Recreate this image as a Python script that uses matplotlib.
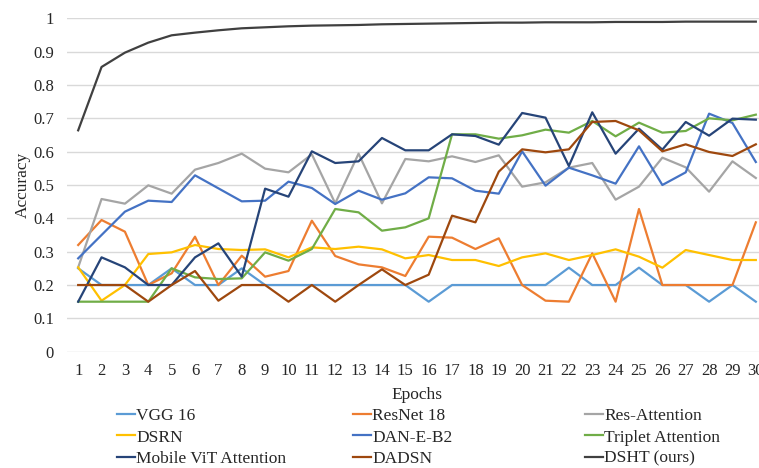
"""Accuracy per epoch for the compared models."""

import matplotlib

matplotlib.use("Agg")
import matplotlib.pyplot as plt
from matplotlib.lines import Line2D

plt.rcParams["font.family"] = ["Liberation Serif", "DejaVu Serif"]

epochs = list(range(1, 31))

vgg16 = [0.25, 0.2, 0.2, 0.2, 0.25, 0.2, 0.2, 0.25, 0.2, 0.2,
         0.2, 0.2, 0.2, 0.2, 0.2, 0.15, 0.2, 0.2, 0.2, 0.2,
         0.2, 0.252, 0.2, 0.2, 0.252, 0.2, 0.2, 0.15, 0.2, 0.15]
resnet18 = [0.32, 0.395, 0.36, 0.2, 0.235, 0.345, 0.2, 0.288, 0.225, 0.242,
            0.393, 0.287, 0.262, 0.253, 0.227, 0.345, 0.342, 0.308, 0.34, 0.2,
            0.153, 0.15, 0.295, 0.15, 0.428, 0.2, 0.2, 0.2, 0.2, 0.388]
res_attention = [0.253, 0.458, 0.444, 0.499, 0.474, 0.546, 0.566, 0.594, 0.549, 0.538,
                 0.592, 0.445, 0.594, 0.445, 0.578, 0.571, 0.586, 0.569, 0.589, 0.495,
                 0.508, 0.552, 0.566, 0.456, 0.495, 0.582, 0.553, 0.48, 0.571, 0.521]
dsrn = [0.253, 0.153, 0.2, 0.293, 0.298, 0.32, 0.308, 0.305, 0.307, 0.283,
        0.313, 0.308, 0.315, 0.307, 0.28, 0.29, 0.275, 0.275, 0.257, 0.283,
        0.295, 0.275, 0.29, 0.307, 0.285, 0.252, 0.305, 0.29, 0.275, 0.275]
dan_e_b2 = [0.28, 0.35, 0.42, 0.453, 0.449, 0.529, 0.49, 0.451, 0.453, 0.51,
            0.491, 0.443, 0.483, 0.456, 0.475, 0.523, 0.52, 0.483, 0.474, 0.601,
            0.498, 0.552, 0.529, 0.504, 0.616, 0.5, 0.538, 0.714, 0.686, 0.569]
triplet = [0.15, 0.15, 0.15, 0.15, 0.25, 0.223, 0.218, 0.22, 0.298, 0.273,
           0.308, 0.428, 0.418, 0.363, 0.373, 0.4, 0.652, 0.652, 0.639, 0.649,
           0.666, 0.657, 0.692, 0.646, 0.687, 0.657, 0.662, 0.7, 0.694, 0.711]
mobile_vit = [0.15, 0.283, 0.253, 0.2, 0.2, 0.283, 0.325, 0.225, 0.489, 0.465,
              0.601, 0.566, 0.571, 0.641, 0.604, 0.604, 0.652, 0.647, 0.621, 0.716,
              0.702, 0.557, 0.718, 0.594, 0.669, 0.606, 0.689, 0.648, 0.699, 0.696]
dadsn = [0.2, 0.2, 0.2, 0.15, 0.2, 0.242, 0.153, 0.2, 0.2, 0.15,
         0.2, 0.15, 0.2, 0.247, 0.2, 0.231, 0.408, 0.388, 0.54, 0.607,
         0.598, 0.607, 0.689, 0.692, 0.664, 0.601, 0.622, 0.599, 0.587, 0.622]
dsht = [0.664, 0.854, 0.897, 0.927, 0.949, 0.957, 0.964, 0.970, 0.973, 0.976,
        0.978, 0.979, 0.980, 0.982, 0.983, 0.984, 0.985, 0.986, 0.987, 0.987,
        0.988, 0.988, 0.988, 0.989, 0.989, 0.989, 0.990, 0.990, 0.990, 0.990]

series = [
    ("VGG 16", vgg16, "#5B9BD5"),
    ("ResNet 18", resnet18, "#ED7D31"),
    ("Res-Attention", res_attention, "#A5A5A5"),
    ("DSRN", dsrn, "#FFC000"),
    ("DAN-E-B2", dan_e_b2, "#4472C4"),
    ("Triplet Attention", triplet, "#70AD47"),
    ("Mobile ViT Attention", mobile_vit, "#264478"),
    ("DADSN", dadsn, "#9E480E"),
    ("DSHT (ours)", dsht, "#404040"),
]

W, H = 759, 468
fig = plt.figure(figsize=(W / 100, H / 100), dpi=100)
left, right, top, bottom = 66.5, 767.5, 18.3, 351.7
ax = fig.add_axes([left / W, 1 - bottom / H, (right - left) / W, (bottom - top) / H])

for name, vals, color in series:
    ax.plot(epochs, vals, color=color, linewidth=1.6, label=name, zorder=3)

ax.set_xlim(0.5, 30.5)
ax.set_ylim(0, 1)
ax.set_yticks([i / 10 for i in range(11)])
ax.set_yticklabels(["0"] + [f"{i / 10:g}" for i in range(1, 10)] + ["1"])
ax.set_xticks(epochs)
ax.grid(axis="y", color="#D9D9D9", linewidth=1.0, zorder=0)
ax.grid(axis="x", visible=False)
for sp in ax.spines.values():
    sp.set_visible(False)
ax.tick_params(length=0, labelsize=12, colors="#262626", pad=8)
ax.tick_params(axis="y", pad=9)
ax.set_xlabel("Epochs", fontsize=12.5, color="#262626", labelpad=6)
ax.set_ylabel("Accuracy", fontsize=12.5, color="#262626", labelpad=2)

# legend laid out in three separate columns like the source
col_x = [117 / W, 353 / W, 585 / W]
for c in range(3):
    handles = [Line2D([], [], color=series[r * 3 + c][2], linewidth=1.6) for r in range(3)]
    labels = [series[r * 3 + c][0] for r in range(3)]
    fig.legend(handles, labels, loc="upper left", bbox_to_anchor=(col_x[c], 1 - 408 / H),
               frameon=False, fontsize=12.5, handlelength=1.05, handletextpad=0.05,
               labelspacing=0.3, borderpad=0, borderaxespad=0, labelcolor="#262626")

fig.savefig("out.png", dpi=100)
